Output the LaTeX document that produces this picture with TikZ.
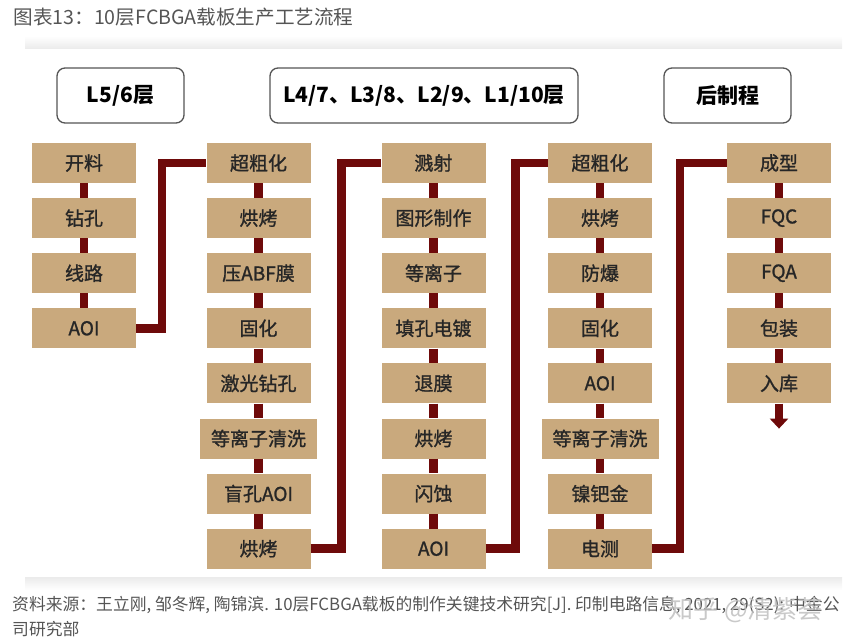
\documentclass[tikz,border=0pt]{standalone}
\usepackage{fontspec}
\setmainfont{Noto Sans CJK SC}
\newfontfamily\boxfont[FakeBold=1.2]{Noto Sans CJK SC}
\usepackage{xcolor}
\usetikzlibrary{arrows.meta, positioning}

\definecolor{boxfill}{HTML}{C9A97D}
\definecolor{linkred}{HTML}{6E0A0A}
\definecolor{framegray}{HTML}{555555}
\definecolor{titlegray}{HTML}{555555}

\begin{document}
\begin{tikzpicture}[
	x=1pt, y=-1pt,
	node distance=14.7pt,
	stepbox/.style={rectangle, fill=boxfill, minimum width=104pt, minimum height=40pt, inner xsep=11pt, text=black!85, font=\boxfont\fontsize{19}{19}\selectfont},
	layer/.style={rectangle, draw=framegray, line width=1.3pt, rounded corners=8pt, minimum height=55pt, font=\bfseries\fontsize{21}{21}\selectfont},
	link/.style={draw=linkred, line width=8.5pt}
	]
	\useasboundingbox (0,0) rectangle (850,644);
	
	% Title
	\node[anchor=west, text=titlegray, font=\fontsize{19.6}{19.6}\selectfont] (title) at (10,17) {图表13：10层FCBGA载板生产工艺流程};
	
	% Panel edges
	\shade[top color=white, bottom color=black!8] (25,36) rectangle (842,49);
	\shade[top color=black!8, bottom color=white] (25,577) rectangle (842,590);
	
	% Layer headers
	\node[layer, minimum width=127pt] (h1) at (120.5,95.5) {L5/6层};
	\node[layer, minimum width=308pt] (h2) at (424,95.5) {L4/7、L3/8、L2/9、L1/10层};
	\node[layer, minimum width=127pt] (h3) at (727.5,95.5) {后制程};
	
	% L5/6
	\node[stepbox] (a1) at (84,163) {开料};
	\node[stepbox, below=of a1] (a2) {钻孔};
	\node[stepbox, below=of a2] (a3) {线路};
	\node[stepbox, below=of a3] (a4) {AOI};
	
	% Build-up, first part
	\node[stepbox] (b1) at (258.5,163) {超粗化};
	\node[stepbox, below=of b1] (b2) {烘烤};
	\node[stepbox, below=of b2] (b3) {压ABF膜};
	\node[stepbox, below=of b3] (b4) {固化};
	\node[stepbox, below=of b4] (b5) {激光钻孔};
	\node[stepbox, below=of b5] (b6) {等离子清洗};
	\node[stepbox, below=of b6] (b7) {盲孔AOI};
	\node[stepbox, below=of b7] (b8) {烘烤};
	
	% Build-up, second part
	\node[stepbox] (c1) at (433.5,163) {溅射};
	\node[stepbox, below=of c1] (c2) {图形制作};
	\node[stepbox, below=of c2] (c3) {等离子};
	\node[stepbox, below=of c3] (c4) {填孔电镀};
	\node[stepbox, below=of c4] (c5) {退膜};
	\node[stepbox, below=of c5] (c6) {烘烤};
	\node[stepbox, below=of c6] (c7) {闪蚀};
	\node[stepbox, below=of c7] (c8) {AOI};
	
	% Outer layers
	\node[stepbox] (d1) at (600,163) {超粗化};
	\node[stepbox, below=of d1] (d2) {烘烤};
	\node[stepbox, below=of d2] (d3) {防爆};
	\node[stepbox, below=of d3] (d4) {固化};
	\node[stepbox, below=of d4] (d5) {AOI};
	\node[stepbox, below=of d5] (d6) {等离子清洗};
	\node[stepbox, below=of d6] (d7) {镍钯金};
	\node[stepbox, below=of d7] (d8) {电测};
	
	% Back end
	\node[stepbox] (e1) at (779,163) {成型};
	\node[stepbox, below=of e1] (e2) {FQC};
	\node[stepbox, below=of e2] (e3) {FQA};
	\node[stepbox, below=of e3] (e4) {包装};
	\node[stepbox, below=of e4] (e5) {入库};
	
	% Links inside columns
	\foreach \col/\last in {a/3, b/7, c/7, d/7, e/4} {
		\foreach \i [evaluate=\i as \j using int(\i+1)] in {1,...,\last} {
			\draw[link] (\col\i.south) -- (\col\j.north);
		}
	}
	
	% Links between columns
	\draw[link] (a4.east) -- ++(26,0) |- (b1.west);
	\draw[link] (b8.east) -- ++(31,0) |- (c1.west);
	\draw[link] (c8.east) -- ++(30,0) |- (d1.west);
	\draw[link] (d8.east) -- ++(28,0) |- (e1.west);
	\draw[link, -{Triangle[width=18pt, length=10pt]}] (e5.south) -- ++(0,25);
	
	% Source
	\node[anchor=north west, align=left, inner sep=0pt, text=titlegray, font=\fontsize{16.8}{25}\selectfont] (source) at (12,596) {资料来源：王立刚, 邹冬辉, 陶锦滨. 10层FCBGA载板的制作关键技术研究[J]. 印制电路信息, 2021, 29(S2): 中金公\\司研究部};
	\node[anchor=west, text=black!25, opacity=0.85, font=\fontsize{25}{25}\selectfont] (mark) at (665,610) {知乎 @清紫荟};
	
\end{tikzpicture}
\end{document}
